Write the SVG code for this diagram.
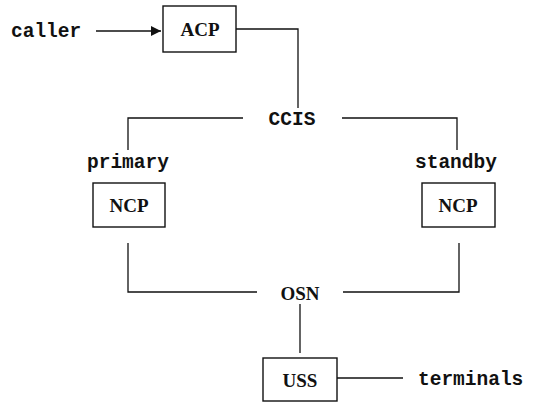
<svg xmlns="http://www.w3.org/2000/svg" width="537" height="405" viewBox="0 0 537 405">
  <style>
    .box { fill: #fff; stroke: #111; stroke-width: 1.4; }
    .wire { fill: none; stroke: #111; stroke-width: 1.3; }
    .name { font-family: "Liberation Serif", serif; font-weight: bold; font-size: 19px; fill: #111; text-anchor: middle; }
    .tag { font-family: "Liberation Mono", monospace; font-weight: bold; font-size: 19.5px; fill: #111; }
  </style>
  <defs>
    <marker id="arrow" viewBox="0 0 10 10" refX="10" refY="5" markerWidth="14" markerHeight="10" markerUnits="userSpaceOnUse" orient="auto">
      <path d="M0,0 L10,5 L0,10 Z" fill="#111"/>
    </marker>
  </defs>
  <rect width="537" height="405" fill="#fff"/>

  <!-- links between the exchange elements -->
  <g id="connectors">
    <line class="wire" x1="96" y1="31" x2="161" y2="31" marker-end="url(#arrow)"/>
    <polyline class="wire" points="236,29 298,29 298,108"/>
    <polyline class="wire" points="243,118 128,118 128,150"/>
    <polyline class="wire" points="342,118 457,118 457,150"/>
    <polyline class="wire" points="128,243 128,292 257,292"/>
    <polyline class="wire" points="343,292 459,292 459,243"/>
    <line class="wire" x1="300" y1="304" x2="300" y2="353"/>
    <line class="wire" x1="337" y1="378" x2="403" y2="378"/>
  </g>

  <g id="caller"><text class="tag" x="11" y="37">caller</text></g>
  <g id="acp">
    <rect class="box" x="163" y="6" width="73" height="46"/>
    <text class="name" x="200" y="36">ACP</text>
  </g>
  <g id="ccis"><text class="tag" x="292" y="125" text-anchor="middle">CCIS</text></g>
  <g id="ncp-primary">
    <text class="tag" x="87" y="168">primary</text>
    <rect class="box" x="93" y="183" width="72" height="44"/>
    <text class="name" x="129" y="212">NCP</text>
  </g>
  <g id="ncp-standby">
    <text class="tag" x="415" y="168">standby</text>
    <rect class="box" x="422" y="183" width="73" height="44"/>
    <text class="name" x="458" y="212">NCP</text>
  </g>
  <g id="osn"><text class="name" x="300" y="300">OSN</text></g>
  <g id="uss">
    <rect class="box" x="263" y="358" width="74" height="43"/>
    <text class="name" x="300" y="387">USS</text>
  </g>
  <g id="terminals"><text class="tag" x="418" y="385">terminals</text></g>
</svg>
